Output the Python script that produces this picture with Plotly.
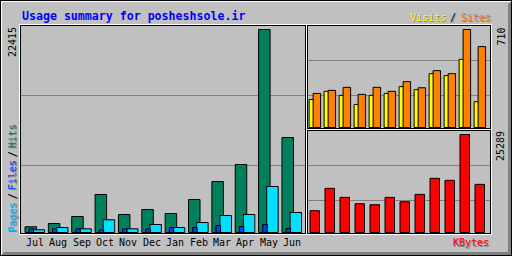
import plotly.graph_objects as go

# ---------------- data ----------------
months = ["Jul", "Aug", "Sep", "Oct", "Nov", "Dec", "Jan", "Feb", "Mar", "Apr", "May", "Jun"]
hits = [629, 994, 1767, 4196, 1988, 2540, 2098, 3644, 5631, 7509, 22415, 10490]
files = [409, 409, 409, 298, 409, 409, 552, 552, 773, 663, 883, 442]
pages = [298, 552, 409, 1402, 409, 883, 552, 1104, 1877, 1988, 5079, 2208]
visits = [203, 262, 233, 167, 233, 247, 296, 274, 390, 376, 494, 187]
sites = [247, 269, 291, 240, 291, 262, 332, 288, 412, 390, 710, 586]
kbytes = [5617, 11389, 9059, 7429, 7170, 9059, 7946, 9836, 13977, 13460, 25289, 12424]
title_text = "Usage summary for posheshsole.ir"

# ---------------- styling ----------------
W, H = 512, 256
BG = "#C0C0C0"
DK = "#808080"
C_HITS, C_FILES, C_PAGES = "#00805C", "#0040FF", "#00E0FF"
C_PAGES_TXT = "#00C0FF"
C_VISITS, C_SITES, C_KB = "#FFFF00", "#FF8000", "#FF0000"
MONO = "DejaVu Sans Mono"


def X(p):
    return p / W


def Y(p):
    return 1 - p / H


fig = go.Figure()

U1 = 23.36          # px per month, left panel
C1 = 35.0           # center of first group
U2 = 15.0           # px per month, right panels
C2 = 315.0


def add_bar(vals, color, xa, ya, off_px, w_px, unit, name):
    fig.add_trace(go.Bar(
        x=months, y=vals, name=name, xaxis=xa, yaxis=ya,
        offset=off_px / unit, width=w_px / unit,
        marker=dict(color=color, line=dict(color="black", width=1)),
        showlegend=False, hoverinfo="x+y+name"))


add_bar(hits, C_HITS, "x", "y", -10.0, 11.5, U1, "Hits")
add_bar(pages, C_PAGES, "x", "y", -1.9, 11.5, U1, "Pages")
add_bar(files, C_FILES, "x", "y", -5.9, 4.5, U1, "Files")
add_bar(visits, C_VISITS, "x2", "y2", -5.9, 4.5, U2, "Visits")
add_bar(sites, C_SITES, "x2", "y2", -1.9, 7.5, U2, "Sites")
add_bar(kbytes, C_KB, "x3", "y3", -5.0, 9.5, U2, "KBytes")

s1 = max(hits) / (232.5 - 29.5)
s2 = max(sites) / (127.5 - 29.5)
s3 = max(kbytes) / (232.5 - 134.5)

axcommon = dict(showgrid=False, zeroline=False, showline=False, showticklabels=False,
                ticks="", fixedrange=True)
fig.update_layout(
    width=W, height=H, margin=dict(l=0, r=0, t=0, b=0),
    paper_bgcolor=BG, plot_bgcolor="rgba(0,0,0,0)", barmode="overlay",
    xaxis=dict(domain=[X(20.5), X(305.5)], range=[(20.5 - C1) / U1, (305.5 - C1) / U1],
               type="category", anchor="y", **axcommon),
    yaxis=dict(domain=[Y(233.5), Y(25.5)], range=[-1 * s1, 207 * s1], anchor="x", **axcommon),
    xaxis2=dict(domain=[X(307.5), X(490.5)], range=[(307.5 - C2) / U2, (490.5 - C2) / U2],
                type="category", anchor="y2", **axcommon),
    yaxis2=dict(domain=[Y(128.5), Y(25.5)], range=[-1 * s2, 102 * s2], anchor="x2", **axcommon),
    xaxis3=dict(domain=[X(307.5), X(490.5)], range=[(307.5 - C2) / U2, (490.5 - C2) / U2],
                type="category", anchor="y3", **axcommon),
    yaxis3=dict(domain=[Y(233.5), Y(130.5)], range=[-1 * s3, 102 * s3], anchor="x3", **axcommon),
)

shapes = []


def hline(x0, x1, row, color, layer="below"):
    shapes.append(dict(type="line", xref="paper", yref="paper", x0=X(x0), x1=X(x1 + 1),
                       y0=Y(row + 0.5), y1=Y(row + 0.5), line=dict(color=color, width=1), layer=layer))


def vline(col, y0, y1, color, layer="below"):
    shapes.append(dict(type="line", xref="paper", yref="paper", x0=X(col + 0.5), x1=X(col + 0.5),
                       y0=Y(y0), y1=Y(y1 + 1), line=dict(color=color, width=1), layer=layer))


def rect(x0, y0, x1, y1, color):
    hline(x0, x1, y0, color)
    hline(x0, x1, y1, color)
    vline(x0, y0, y1, color)
    vline(x1, y0, y1, color)


# outer bevel
pts = [(1, 256), (512, 256), (512, 1), (508, 4), (508, 252), (4, 252)]
path = "M " + " L ".join(f"{X(a)} {Y(b)}" for a, b in pts) + " Z"
shapes.append(dict(type="path", xref="paper", yref="paper", path=path,
                   fillcolor=DK, line=dict(width=0), layer="below"))
hline(1, 510, 1, "white")
vline(1, 1, 254, "white")
rect(0, 0, 511, 255, "black")

# gridlines
for r in (95, 165):
    hline(21, 304, r, DK)
for r in (60, 95):
    hline(308, 489, r, DK)
for r in (165, 200):
    hline(308, 489, r, DK)

# panel frames: white outer, black inner
rect(19, 24, 306, 234, "white")
rect(306, 24, 491, 129, "white")
rect(306, 129, 491, 234, "white")
rect(20, 25, 305, 233, "black")
rect(307, 25, 490, 128, "black")
rect(307, 130, 490, 233, "black")

fig.update_layout(shapes=shapes)

ann = []


def text(t, x, y, color, size, xanchor="center", angle=0, bold=False, shadow=False):
    txt = f"<b>{t}</b>" if bold else t
    if shadow:
        ann.append(dict(text=txt, x=X(x), y=Y(y), xref="paper", yref="paper", showarrow=False,
                        xanchor=xanchor, yanchor="middle", textangle=angle,
                        xshift=1, yshift=-1,
                        font=dict(family=MONO, size=size, color=DK)))
    ann.append(dict(text=txt, x=X(x), y=Y(y), xref="paper", yref="paper", showarrow=False,
                    xanchor=xanchor, yanchor="middle", textangle=angle,
                    font=dict(family=MONO, size=size, color=color)))


# title
text(title_text, 19.5, 15.5, "#0000FF", 11.6, xanchor="left", bold=True)

# legends
text("Visits", 447.5, 17, C_VISITS, 10, xanchor="right", shadow=True)
text("/", 452.5, 17, "black", 10, shadow=True)
text("Sites", 458.5, 17, C_SITES, 10, xanchor="left", shadow=True)
text("KBytes", 490.5, 242, C_KB, 10, xanchor="right", shadow=True)

# rotated legend on the left (bottom to top)
text("Pages", 12, 217, C_PAGES_TXT, 10, angle=-90, shadow=True)
text("/", 12, 196, "black", 10, angle=-90, shadow=True)
text("Files", 12, 175, C_FILES, 10, angle=-90, shadow=True)
text("/", 12, 154, "black", 10, angle=-90, shadow=True)
text("Hits", 12, 136, C_HITS, 10, angle=-90, shadow=True)

# max labels
text(str(max(hits)), 12.5, 42.5, "black", 10, angle=-90)
text(str(max(sites)), 500.5, 37, "black", 10, angle=-90)
text(str(max(kbytes)), 500.5, 146.5, "black", 10, angle=-90)

# month labels under the left panel
for m in months:
    ann.append(dict(text=m, x=m, y=Y(242.5), xref="x", yref="paper", showarrow=False,
                    xanchor="center", yanchor="middle",
                    font=dict(family=MONO, size=10, color="black")))

fig.update_layout(annotations=ann)
fig.write_html("out.html")
